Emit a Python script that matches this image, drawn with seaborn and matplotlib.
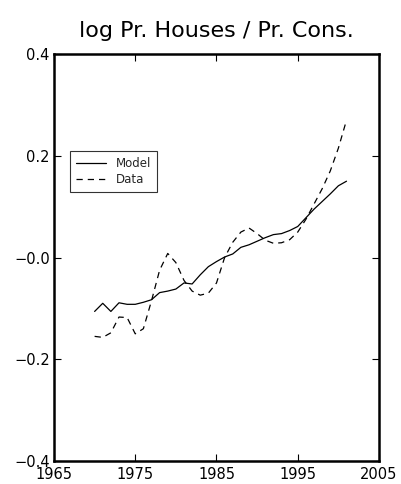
import matplotlib
matplotlib.use("Agg")
import matplotlib.pyplot as plt
import pandas as pd
import seaborn as sns

years = list(range(1970, 2002))
model = [-0.106, -0.090, -0.106, -0.089, -0.092, -0.092, -0.088, -0.083,
         -0.069, -0.066, -0.062, -0.050, -0.052, -0.034, -0.018, -0.008,
         0.001, 0.007, 0.020, 0.025, 0.032, 0.039, 0.045, 0.047,
         0.053, 0.061, 0.078, 0.095, 0.110, 0.125, 0.141, 0.150]
data = [-0.155, -0.157, -0.148, -0.117, -0.118, -0.150, -0.140, -0.085,
        -0.025, 0.008, -0.010, -0.045, -0.066, -0.074, -0.070, -0.050,
        0.000, 0.030, 0.050, 0.058, 0.047, 0.034, 0.028, 0.029,
        0.035, 0.050, 0.075, 0.105, 0.135, 0.170, 0.215, 0.270]
x_ticks = [1965, 1975, 1985, 1995, 2005]
y_ticks = [-0.4, -0.2, 0.0, 0.2, 0.4]
y_labels = ["\u22120.4", "\u22120.2", "\u22120.0", "0.2", "0.4"]

df = pd.DataFrame({
    "year": years * 2,
    "value": model + data,
    "series": ["Model"] * len(years) + ["Data"] * len(years),
})

sns.set_style("ticks")
plt.rcParams["font.family"] = ["DejaVu Sans"]

fig = plt.figure(figsize=(4.02, 4.84), dpi=100)
ax = fig.add_axes([0.1343, 0.0475, 0.8085, 0.8409])

sns.lineplot(data=df, x="year", y="value", style="series", color="black",
             dashes={"Model": "", "Data": (5, 4)}, linewidth=0.9, ax=ax)

ax.set_xlim(1965, 2005)
ax.set_ylim(-0.4, 0.4)
ax.set_xticks(x_ticks)
ax.set_yticks(y_ticks)
ax.set_yticklabels(y_labels)
ax.tick_params(direction="in", length=5, width=0.8, top=True, right=True,
               labelsize=10.5, colors="black")
ax.tick_params(axis="x", pad=4)
ax.tick_params(axis="y", pad=3)
for s in ax.spines.values():
    s.set_linewidth(1.8)
    s.set_color("black")
ax.set_xlabel("")
ax.set_ylabel("")
ax.set_title("log Pr. Houses / Pr. Cons.", fontsize=16, pad=12, color="black")

leg = ax.legend(loc="upper left", bbox_to_anchor=(0.03, 0.775), fontsize=8.5,
                frameon=True, fancybox=False, handlelength=2.6,
                borderpad=0.5, labelspacing=0.2)
leg.get_frame().set_edgecolor("black")
leg.get_frame().set_linewidth(0.8)

fig.savefig("out.png", dpi=100)
